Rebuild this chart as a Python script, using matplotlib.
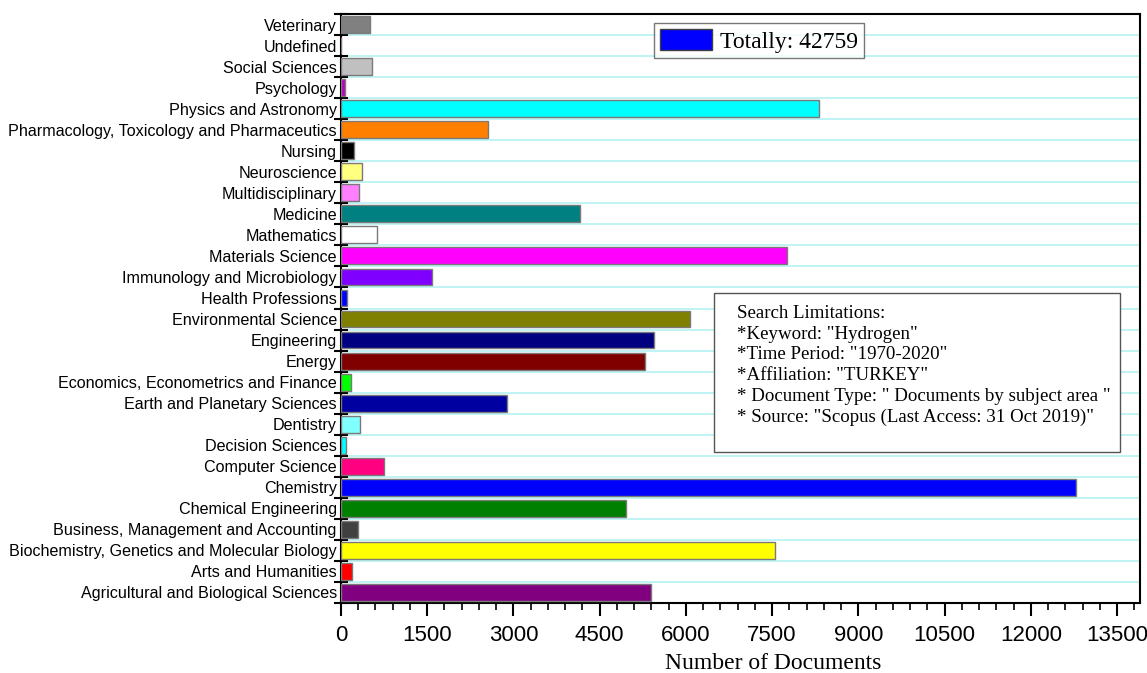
import matplotlib
matplotlib.use("Agg")
import numpy as np
import matplotlib.pyplot as plt
from matplotlib.patches import Rectangle, Patch

# categories listed bottom to top
categories = [
    "Agricultural and Biological Sciences",
    "Arts and Humanities",
    "Biochemistry, Genetics and Molecular Biology",
    "Business, Management and Accounting",
    "Chemical Engineering",
    "Chemistry",
    "Computer Science",
    "Decision Sciences",
    "Dentistry",
    "Earth and Planetary Sciences",
    "Economics, Econometrics and Finance",
    "Energy",
    "Engineering",
    "Environmental Science",
    "Health Professions",
    "Immunology and Microbiology",
    "Materials Science",
    "Mathematics",
    "Medicine",
    "Multidisciplinary",
    "Neuroscience",
    "Nursing",
    "Pharmacology, Toxicology and Pharmaceutics",
    "Physics and Astronomy",
    "Psychology",
    "Social Sciences",
    "Undefined",
    "Veterinary",
]
documents = [5400, 190, 7550, 300, 4950, 12780, 740, 80, 330, 2880,
             170, 5280, 5440, 6080, 110, 1580, 7760, 630, 4160, 310,
             370, 220, 2550, 8320, 70, 545, 0, 500]
colors = ["#800080", "#ff0000", "#ffff00", "#404040", "#008000", "#0000ff",
          "#ff0080", "#00ffff", "#80ffff", "#0000a0", "#00ff00", "#800000",
          "#000080", "#808000", "#0000ff", "#8000ff", "#ff00ff", "#ffffff",
          "#008080", "#ff80ff", "#ffff80", "#000000", "#ff8000", "#00ffff",
          "#c000c0", "#c0c0c0", "#ffffff", "#808080"]
total = 42759

serif = ["Liberation Serif", "DejaVu Serif"]
sans = ["Liberation Sans", "DejaVu Sans"]

fig = plt.figure(figsize=(11.47, 6.73), dpi=100)
ax = fig.add_axes([341 / 1147, 1 - 603 / 673, (1140 - 341) / 1147, (603 - 14) / 673])

y = np.arange(len(categories))
ax.barh(y, documents, height=0.8, color=colors, edgecolor="#7a7a7a",
        linewidth=1.0, zorder=3)

ax.set_ylim(-0.5, len(categories) - 0.5)
ax.set_xlim(0, 13900)

# horizontal cyan lines between categories
for b in np.arange(-0.5, len(categories), 1):
    ax.axhline(b, color="#b4f2f2", linewidth=1.2, zorder=1)

ax.set_yticks(y)
ax.set_yticklabels(categories, family=sans, fontsize=11.6)
ax.set_yticks(np.arange(-0.5, len(categories), 1), minor=True)
ax.tick_params(axis="y", which="major", length=0, pad=3)
ax.tick_params(axis="y", which="minor", direction="inout", length=10, width=1.5)

ax.set_xticks(np.arange(0, 13501, 1500))
ax.set_xticks(np.arange(0, 13900, 300), minor=True)
ax.tick_params(axis="x", which="major", direction="out", length=9, width=1.5, pad=7)
ax.tick_params(axis="x", which="minor", direction="out", length=5, width=1.2)
for lab in ax.get_xticklabels():
    lab.set_family(sans)
    lab.set_fontsize(16)

for s in ax.spines.values():
    s.set_linewidth(1.5)

ax.set_xlabel("Number of Documents", family=serif, fontsize=17, labelpad=4)
ax.xaxis.set_label_coords((773 - 341) / 799, -0.085)

leg = ax.legend(handles=[Patch(facecolor="#0000ff", edgecolor="#404040")],
                labels=["Totally: %d" % total],
                loc="upper left", bbox_to_anchor=(654 / 1147, 1 - 23 / 673),
                bbox_transform=fig.transFigure, fancybox=False,
                prop={"family": serif, "size": 17}, handlelength=2.2,
                handleheight=1.0, borderpad=0.25, handletextpad=0.35,
                borderaxespad=0)
leg.get_frame().set_edgecolor("#555555")
leg.get_frame().set_linewidth(1.0)

box = Rectangle((714 / 1147, 1 - 452 / 673), (1120 - 714) / 1147, (452 - 293) / 673,
                transform=fig.transFigure, facecolor="white", edgecolor="#555555",
                linewidth=1.0, zorder=5)
fig.patches.append(box)
notes = ("Search Limitations:\n"
         "*Keyword: \"Hydrogen\"\n"
         "*Time Period: \"1970-2020\"\n"
         "*Affiliation: \"TURKEY\"\n"
         "* Document Type: \" Documents by subject area \"\n"
         "* Source: \"Scopus (Last Access: 31 Oct 2019)\"")
fig.text(737 / 1147, 1 - 305 / 673, notes, family=serif, fontsize=13.6,
         va="top", ha="left", linespacing=1.28, zorder=6)

fig.savefig("out.png", dpi=100)
